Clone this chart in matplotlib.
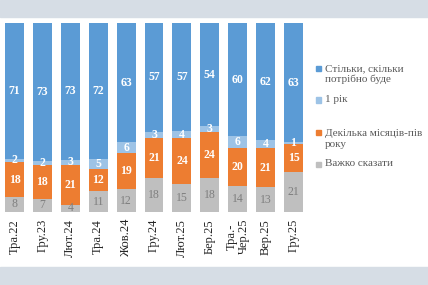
import numpy as np
import matplotlib
matplotlib.use('Agg')
import matplotlib.pyplot as plt
from matplotlib.patches import Rectangle

# data
periods = ['Тра.22', 'Гру.23', 'Лют.24', 'Тра.24', 'Жов.24', 'Гру.24',
           'Лют.25', 'Бер.25', 'Тра.-\nЧер.25', 'Вер.25', 'Гру.25']
hard_to_say = np.array([8, 7, 4, 11, 12, 18, 15, 18, 14, 13, 21])
few_months = np.array([18, 18, 21, 12, 19, 21, 24, 24, 20, 21, 15])
one_year = np.array([2, 2, 3, 5, 6, 3, 4, 3, 6, 4, 1])
as_long = np.array([71, 73, 73, 72, 63, 57, 57, 54, 60, 62, 63])

series = [
    ('Важко сказати', hard_to_say, '#bfbfbf', '#7f7f7f', 'normal'),
    ('Декілька місяців-пів\nроку', few_months, '#ed7d31', 'white', 'bold'),
    ('1 рік', one_year, '#9dc3e6', 'white', 'bold'),
    ('Стільки, скільки\nпотрібно буде', as_long, '#5b9bd5', 'white', 'bold'),
]

plt.rcParams['font.family'] = ['Liberation Serif', 'DejaVu Serif']

W, H = 428, 285
fig = plt.figure(figsize=(W / 100, H / 100), dpi=100)

# grey bands top and bottom
fig.patches.append(Rectangle((0, 1 - 17 / H), 1, 17 / H, transform=fig.transFigure,
                             color='#d6dde5', zorder=0))
fig.patches.append(Rectangle((0, 0), 1, 18 / H, transform=fig.transFigure,
                             color='#d6dde5', zorder=0))

ax = fig.add_axes([0, 1 - 212 / H, 308 / W, (212 - 23) / H])
ax.patch.set_alpha(0)

totals = hard_to_say + few_months + one_year + as_long
x = np.arange(len(periods))
bottom = np.zeros(len(periods))
for name, vals, col, tcol, weight in series:
    share = vals / totals * 100
    ax.bar(x, share, 0.68, bottom=bottom, color=col, label=name)
    for xi, b, s, v in zip(x, bottom, share, vals):
        ax.text(xi, b + s / 2, str(v), ha='center', va='center', color=tcol,
                fontsize=8.5, fontweight=weight)
    bottom += share

ax.set_xlim(-0.52, len(periods) - 0.48)
ax.set_ylim(0, 100)
ax.set_yticks([])
ax.set_xticks(x)
ax.set_xticklabels(periods, rotation=90, fontsize=9, color='#262626',
                   linespacing=0.95)
ax.tick_params(axis='x', length=0, pad=5)
for s in ax.spines.values():
    s.set_visible(False)

# legend drawn by hand, right side
leg_y = [(68 + 81) / 2, 100, (132 + 146) / 2, 164]
for (name, vals, col, tcol, weight), yy in zip(series[::-1], leg_y):
    first_line = yy if '\n' not in name else yy - 6.5
    fig.patches.append(Rectangle((316 / W, 1 - (first_line + 2.5) / H), 5 / W, 5 / H,
                                 transform=fig.transFigure, color=col))
    fig.text(325 / W, 1 - yy / H, name, ha='left', va='center', fontsize=8,
             color='#595959', linespacing=1.15)

fig.savefig('out.png', dpi=100)
